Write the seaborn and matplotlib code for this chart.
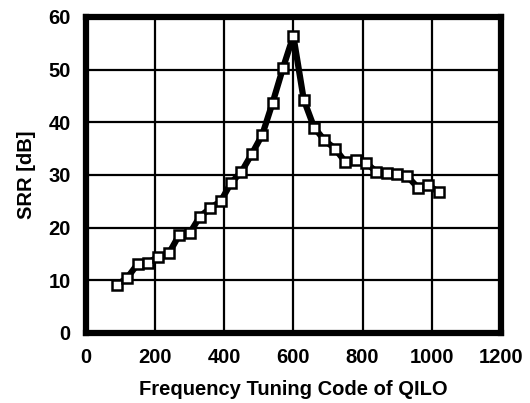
import matplotlib
matplotlib.use("Agg")
import matplotlib.pyplot as plt
import seaborn as sns
import pandas as pd

# Datos
codigo = [90, 120, 150, 180, 210, 240, 270, 300, 330, 360, 390, 420, 450, 480,
          510, 540, 570, 600, 630, 660, 690, 720, 750, 780, 810, 840, 870, 900,
          930, 960, 990, 1020]
srr_db = [9.1, 10.5, 13.1, 13.3, 14.5, 15.1, 18.6, 18.9, 22.1, 23.7, 25.0, 28.5,
          30.6, 34.0, 37.6, 43.7, 50.3, 56.4, 44.3, 39.0, 36.6, 35.0, 32.5, 32.8,
          32.3, 30.6, 30.3, 30.1, 29.7, 27.6, 28.1, 26.7]
x_ticks = [0, 200, 400, 600, 800, 1000, 1200]
y_ticks = [0, 10, 20, 30, 40, 50, 60]

df = pd.DataFrame({'codigo': codigo, 'srr': srr_db})

sns.set_style("white")
plt.rcParams['font.family'] = ['Liberation Sans', 'DejaVu Sans']
plt.rcParams['font.weight'] = 'bold'
plt.rcParams['text.color'] = 'black'
plt.rcParams['axes.labelcolor'] = 'black'
plt.rcParams['xtick.color'] = 'black'
plt.rcParams['ytick.color'] = 'black'

fig = plt.figure(figsize=(5.30, 4.03), dpi=100)
ax = fig.add_axes([0.162, 0.174, 0.783, 0.784])

sns.lineplot(data=df, x='codigo', y='srr', ax=ax, color='black', linewidth=4.5,
             marker='s', markersize=7, markerfacecolor='white',
             markeredgecolor='black', markeredgewidth=1.8, zorder=3)

ax.set_xlim(0, 1200)
ax.set_ylim(0, 60)
ax.set_xticks(x_ticks)
ax.set_yticks(y_ticks)
ax.grid(True, color='black', linewidth=1.6)
ax.set_axisbelow(True)
for s in ax.spines.values():
    s.set_linewidth(4.5)
    s.set_color('black')
    s.set_visible(True)
ax.tick_params(axis='both', length=0, labelsize=14.5, colors='black')
ax.tick_params(axis='y', pad=11)
ax.tick_params(axis='x', pad=11)
for lbl in ax.get_xticklabels() + ax.get_yticklabels():
    lbl.set_fontweight('bold')

ax.set_xlabel('Frequency Tuning Code of QILO', fontsize=14.5, fontweight='bold',
              labelpad=9, color='black')
ax.set_ylabel('SRR [dB]', fontsize=14.5, fontweight='bold', labelpad=9, color='black')

fig.savefig('out.png', dpi=100)
